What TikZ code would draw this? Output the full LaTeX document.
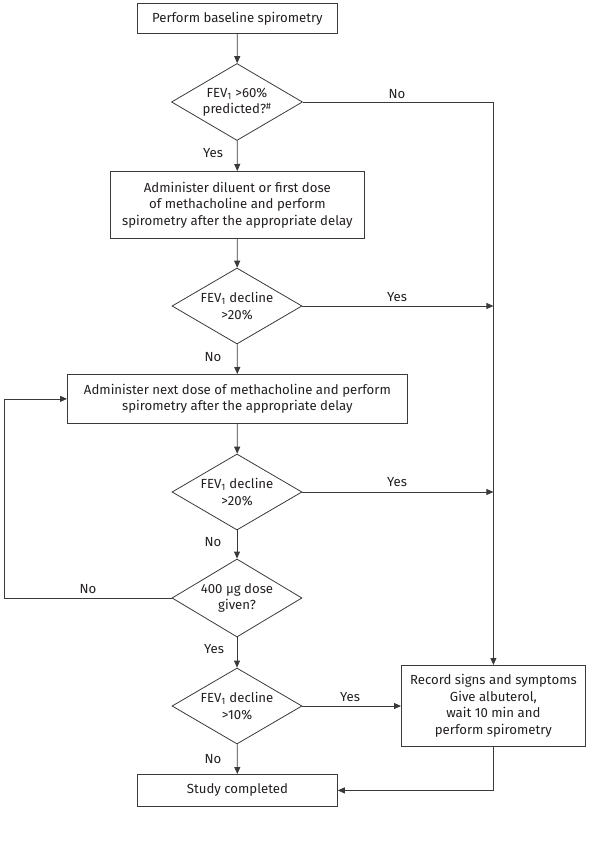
\documentclass[tikz,border=0pt]{standalone}
\usepackage{fontspec}
\setmainfont{Fira Sans}
\usetikzlibrary{shapes.geometric,arrows.meta,calc}
\definecolor{ink}{HTML}{231F20}
\definecolor{edge}{HTML}{3A3A3A}
\begin{document}
\begin{tikzpicture}[x=1pt,y=-1pt,
  font=\fontsize{13.2}{16.5}\selectfont, text=ink,
  box/.style={draw=edge, line width=0.8pt, inner sep=0pt, align=center, anchor=north west},
  dec/.style={diamond, draw=edge, line width=0.8pt, inner sep=0pt, aspect=1.7, align=center, minimum width=130pt, minimum height=76pt},
  arr/.style={draw=edge, line width=0.8pt, -{Triangle[length=7pt,width=6pt]}},
  ln/.style={draw=edge, line width=0.8pt},
  lab/.style={inner sep=0pt}]
\useasboundingbox (0,0) rectangle (600,842);
\node[box, minimum width=200pt, minimum height=30pt] (b1) at (137,3) {Perform baseline spirometry};
\node[dec, minimum width=131pt, minimum height=77pt] (d1) at (237,102) {FEV\textsubscript{1} >60\%\\predicted?\textsuperscript{\#}};
\node[box, minimum width=254pt, minimum height=67pt] (b2) at (110,171) {Administer diluent or first dose\\of methacholine and perform\\spirometry after the appropriate delay};
\node[dec] (d2) at (237,306) {FEV\textsubscript{1} decline\\>20\%};
\node[box, minimum width=340pt, minimum height=49pt] (b3) at (67,374) {Administer next dose of methacholine and perform\\spirometry after the appropriate delay};
\node[dec] (d3) at (237,492) {FEV\textsubscript{1} decline\\>20\%};
\node[dec, minimum height=78pt] (d4) at (237,598) {400 µg dose\\given?};
\node[dec, minimum height=76pt] (d5) at (237,706) {FEV\textsubscript{1} decline\\>10\%};
\node[box, minimum width=184pt, minimum height=81pt] (rec) at (401,665) {Record signs and symptoms\\Give albuterol,\\wait 10 min and\\perform spirometry};
\node[box, minimum width=200pt, minimum height=32pt] (st) at (137,774) {Study completed};
\coordinate (loopx) at (4,0);

\draw[arr] (b1) -- (d1);
\draw[arr] (d1) -- (b2);
\draw[arr] (b2) -- (d2);
\draw[arr] (d2) -- (b3);
\draw[arr] (b3) -- (d3);
\draw[arr] (d3) -- (d4);
\draw[arr] (d4) -- (d5);
\draw[arr] (d5) -- (st);
\draw[arr] (d1.east) -| (rec.north);
\draw[arr] (d2.east) -- (d2.east -| rec.north);
\draw[arr] (d3.east) -- (d3.east -| rec.north);
\draw[arr] (d5.east) -- (d5.east -| rec.west);
\draw[arr] (d4.west) -- (d4.west -| loopx) |- (b3.west);
\draw[arr] (rec.south) |- (st.east);

\node[lab] (l1) at (397,94) {No};
\node[lab] (l2) at (213,153) {Yes};
\node[lab] (l3) at (397,297) {Yes};
\node[lab] (l4) at (213,357) {No};
\node[lab] (l5) at (397,482) {Yes};
\node[lab] (l6) at (213,542) {No};
\node[lab] (l7) at (88,589) {No};
\node[lab] (l8) at (214,649) {Yes};
\node[lab] (l9) at (350,697) {Yes};
\node[lab] (l10) at (213,759) {No};
\end{tikzpicture}
\end{document}
